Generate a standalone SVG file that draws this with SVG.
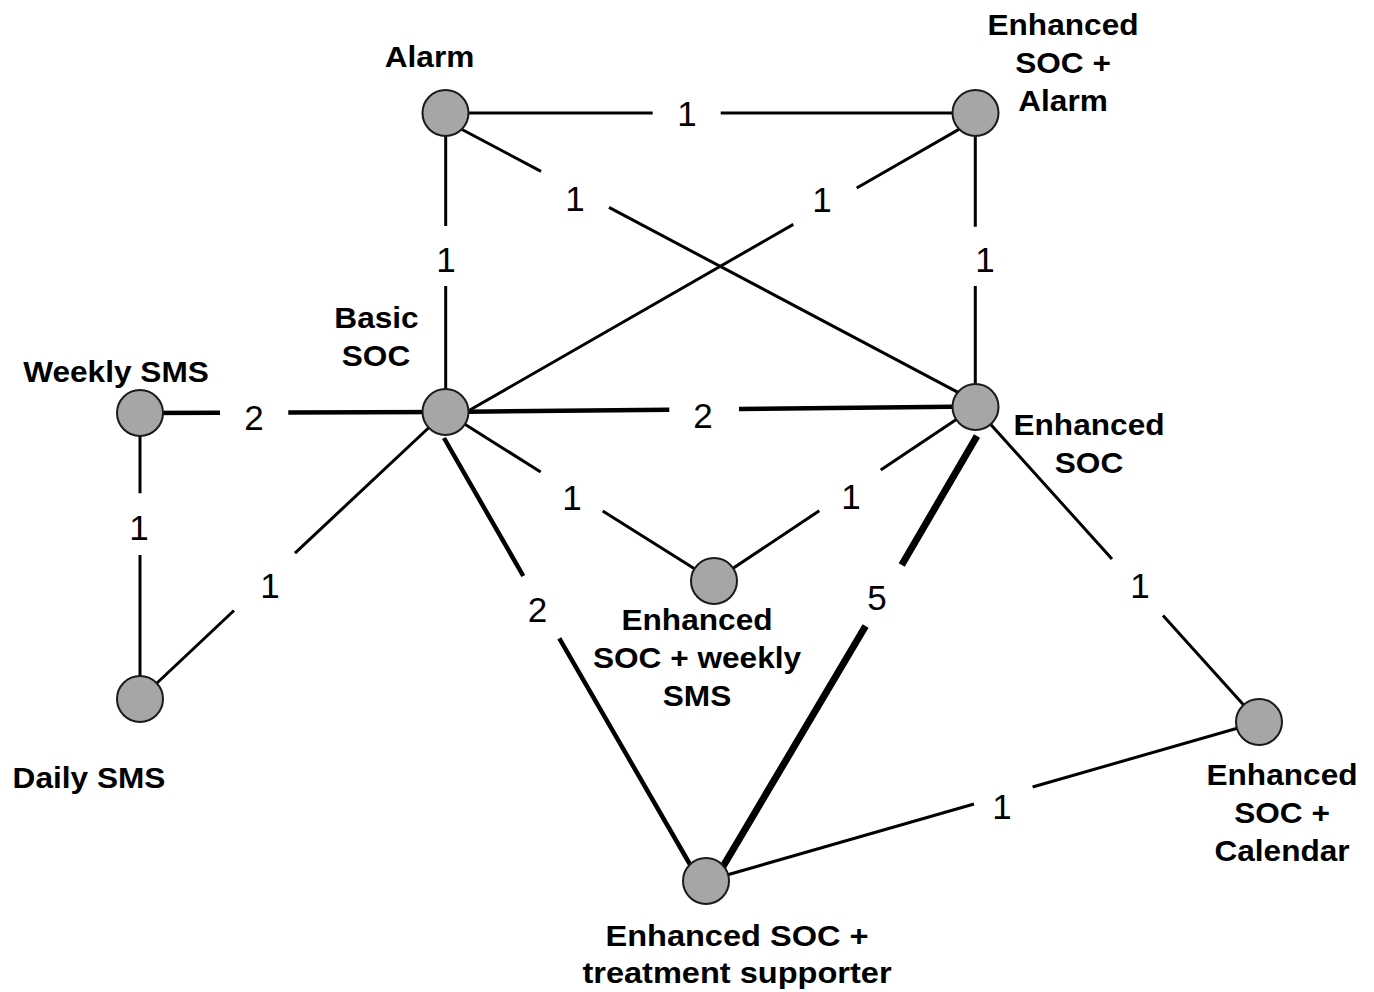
<svg xmlns="http://www.w3.org/2000/svg" width="1374" height="992" viewBox="0 0 1374 992">
<style>
.e{stroke:#000;stroke-width:3;fill:none;stroke-linecap:butt}
.e2{stroke-width:4.5}
.e5{stroke-width:7}
.n{fill:#a6a6a6;stroke:#1a1a1a;stroke-width:2}
.nl{font-family:"Liberation Sans",Arial,sans-serif;font-weight:bold;font-size:29px;fill:#000;text-anchor:middle}
.big{font-size:30px}
.el{font-family:"Liberation Sans",Arial,sans-serif;font-size:35px;fill:#000;text-anchor:middle}
</style>
<rect width="1374" height="992" fill="#fff"/>
<g id="connectors">
  <path class="e" d="M445.5,113 L652.7,113 M720.7,113 L975.5,113"/>
  <path class="e" d="M445.7,113 L445.7,226 M445.7,286 L445.7,412"/>
  <path class="e" d="M445,120.5 L541,171.3 M609,207.4 L975,401.4"/>
  <path class="e" d="M445,424.3 L793.3,224.4 M856.7,188 L975,120.1"/>
  <path class="e" d="M975.3,113 L975.3,226.7 M975.3,286 L975.3,407"/>
  <path class="e e2" d="M140,413 L220,412.7 M288.3,412.4 L445.5,412"/>
  <path class="e e2" d="M445.5,412 L669.3,409.7 M739,409 L975,406.5"/>
  <path class="e" d="M140,413 L140,493.3 M140,555 L140,699"/>
  <path class="e" d="M140,699 L234,610.5 M295,553.1 L445.5,412"/>
  <path class="e" d="M445.5,412 L540.7,472 M602.7,511 L714,581"/>
  <path class="e" d="M714,581 L819.3,510.8 M880.7,469.9 L975,407"/>
  <path class="e e2" d="M444,438 L523.3,576 M559.3,638.3 L699,880"/>
  <path class="e e5" d="M977,436 L901.7,565 M865.6,626 L715,880"/>
  <path class="e" d="M975,407 L1112,559 M1163,615.5 L1259,722"/>
  <path class="e" d="M706,881 L974,804 M1032.6,787 L1259,722"/>
  <g id="edge-labels">
    <text class="el" x="687" y="125.5">1</text>
    <text class="el" x="575" y="210.5">1</text>
    <text class="el" x="822" y="211.5">1</text>
    <text class="el" x="446" y="271.5">1</text>
    <text class="el" x="985" y="271.5">1</text>
    <text class="el" x="254" y="429.5">2</text>
    <text class="el" x="703" y="428">2</text>
    <text class="el" x="139" y="539.5">1</text>
    <text class="el" x="270" y="597.5">1</text>
    <text class="el" x="572" y="509.5">1</text>
    <text class="el" x="851" y="508.5">1</text>
    <text class="el" x="537.5" y="621.5">2</text>
    <text class="el" x="877" y="609.5">5</text>
    <text class="el" x="1140" y="597.5">1</text>
    <text class="el" x="1002" y="818.5">1</text>
  </g>
</g>
<g id="node-alarm">
  <circle class="n" cx="445.5" cy="113" r="23"/>
  <text class="nl" transform="translate(429.5,67) scale(1.09,1)">Alarm</text>
</g>
<g id="node-esoc-alarm">
  <circle class="n" cx="975.5" cy="113" r="23"/>
  <text class="nl" transform="translate(1063,35) scale(1.09,1)">Enhanced</text>
  <text class="nl" transform="translate(1063,73) scale(1.09,1)">SOC +</text>
  <text class="nl" transform="translate(1063,111) scale(1.09,1)">Alarm</text>
</g>
<g id="node-weekly-sms">
  <circle class="n" cx="140" cy="413" r="23"/>
  <text class="nl" transform="translate(116,382) scale(1.09,1)">Weekly SMS</text>
</g>
<g id="node-basic-soc">
  <circle class="n" cx="445.5" cy="412" r="23"/>
  <text class="nl" transform="translate(376.5,328) scale(1.09,1)">Basic</text>
  <text class="nl" transform="translate(376,366) scale(1.09,1)">SOC</text>
</g>
<g id="node-esoc">
  <circle class="n" cx="975.5" cy="407" r="23"/>
  <text class="nl" transform="translate(1089,434.5) scale(1.09,1)">Enhanced</text>
  <text class="nl" transform="translate(1089,472.5) scale(1.09,1)">SOC</text>
</g>
<g id="node-esoc-weekly-sms">
  <circle class="n" cx="714" cy="581" r="23"/>
  <text class="nl" transform="translate(697,630) scale(1.09,1)">Enhanced</text>
  <text class="nl" transform="translate(697,668) scale(1.09,1)">SOC + weekly</text>
  <text class="nl" transform="translate(697,706) scale(1.09,1)">SMS</text>
</g>
<g id="node-daily-sms">
  <circle class="n" cx="140" cy="699" r="23"/>
  <text class="nl" transform="translate(89,788) scale(1.09,1)">Daily SMS</text>
</g>
<g id="node-esoc-calendar">
  <circle class="n" cx="1259" cy="722" r="23"/>
  <text class="nl" transform="translate(1282,785) scale(1.09,1)">Enhanced</text>
  <text class="nl" transform="translate(1282,823) scale(1.09,1)">SOC +</text>
  <text class="nl" transform="translate(1282,861) scale(1.09,1)">Calendar</text>
</g>
<g id="node-esoc-treatment-supporter">
  <circle class="n" cx="706" cy="881" r="23"/>
  <text class="nl big" transform="translate(737,946) scale(1.085,1)">Enhanced SOC +</text>
  <text class="nl big" transform="translate(737,983) scale(1.085,1)">treatment supporter</text>
</g>
</svg>
